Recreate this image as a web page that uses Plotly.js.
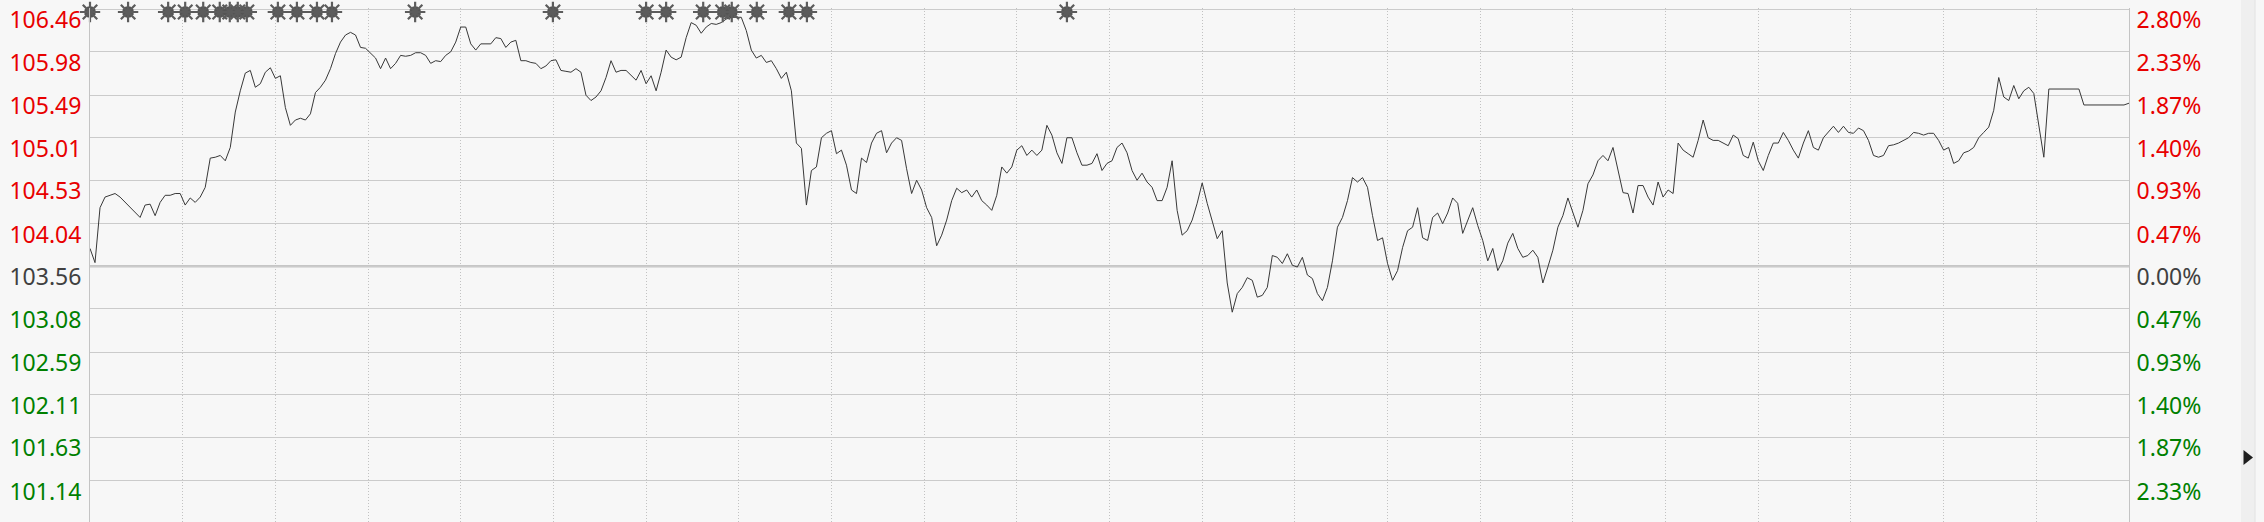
<!DOCTYPE html>
<html><head><meta charset="utf-8">
<script src="https://cdn.plot.ly/plotly-3.0.1.min.js"></script>
<style>html,body{margin:0;padding:0;background:#f7f7f7;overflow:hidden}#chart{width:2264px;height:522px}</style>
</head><body><div id="chart"></div>
<script>
const prevClose = 103.56;
const priceTicks = [106.46, 105.98, 105.49, 105.01, 104.53, 104.04, 103.56, 103.08, 102.59, 102.11, 101.63, 101.14];
const priceTickLabels = ['106.46','105.98','105.49','105.01','104.53','104.04','103.56','103.08','102.59','102.11','101.63','101.14'];
const pctTickLabels = ['2.80%','2.33%','1.87%','1.40%','0.93%','0.47%','0.00%','0.47%','0.93%','1.40%','1.87%','2.33%'];

const prices = [
103.76,103.60,104.22,104.34,104.36,104.38,104.34,104.28,104.22,104.16,
104.11,104.25,104.26,104.13,104.28,104.36,104.36,104.38,104.38,104.25,
104.33,104.28,104.34,104.45,104.78,104.79,104.81,104.75,104.90,105.30,
105.54,105.74,105.77,105.58,105.62,105.75,105.80,105.68,105.71,105.35,
105.15,105.21,105.23,105.21,105.28,105.52,105.58,105.66,105.79,105.96,
106.09,106.17,106.20,106.17,106.03,106.02,105.96,105.91,105.79,105.91,
105.79,105.85,105.94,105.93,105.94,105.97,105.97,105.94,105.85,105.88,
105.87,105.94,105.98,106.09,106.26,106.26,106.07,106.00,106.07,106.07,
106.07,106.14,106.13,106.03,106.09,106.11,105.88,105.88,105.86,105.85,
105.79,105.82,105.88,105.89,105.77,105.76,105.75,105.79,105.75,105.49,
105.43,105.47,105.54,105.69,105.88,105.75,105.77,105.77,105.71,105.66,
105.77,105.62,105.71,105.54,105.75,106.00,105.92,105.89,105.92,106.14,
106.31,106.28,106.19,106.26,106.30,106.29,106.31,106.35,106.37,106.37,
106.37,106.22,106.00,105.91,105.94,105.86,105.88,105.79,105.68,105.75,
105.54,104.95,104.89,104.25,104.64,104.68,105.01,105.06,105.09,104.83,
104.87,104.70,104.42,104.38,104.78,104.73,104.95,105.06,105.09,104.84,
104.95,105.01,104.98,104.66,104.38,104.53,104.42,104.22,104.11,103.79,
103.91,104.08,104.30,104.44,104.39,104.42,104.34,104.42,104.30,104.25,
104.19,104.36,104.68,104.61,104.68,104.87,104.92,104.81,104.87,104.81,
104.87,105.15,105.04,104.84,104.72,105.01,105.01,104.84,104.70,104.70,
104.72,104.83,104.64,104.72,104.75,104.90,104.95,104.84,104.64,104.53,
104.61,104.51,104.45,104.30,104.30,104.45,104.75,104.19,103.91,103.96,
104.08,104.27,104.50,104.27,104.08,103.87,103.96,103.37,103.04,103.25,
103.32,103.43,103.40,103.21,103.23,103.32,103.68,103.66,103.59,103.70,
103.57,103.55,103.66,103.46,103.42,103.25,103.17,103.32,103.62,104.00,
104.11,104.30,104.56,104.51,104.56,104.45,104.13,103.85,103.88,103.59,
103.40,103.51,103.77,103.96,104.00,104.22,103.88,103.85,104.11,104.16,
104.04,104.16,104.33,104.27,103.93,104.08,104.22,104.02,103.85,103.62,
103.76,103.51,103.62,103.82,103.93,103.76,103.66,103.68,103.74,103.66,
103.37,103.55,103.74,104.00,104.13,104.33,104.17,104.00,104.19,104.49,
104.59,104.75,104.81,104.75,104.90,104.64,104.39,104.38,104.16,104.47,
104.47,104.34,104.25,104.51,104.34,104.42,104.38,104.95,104.87,104.83,
104.79,104.98,105.21,105.01,104.98,104.98,104.95,104.92,105.04,105.00,
104.81,104.78,104.96,104.75,104.64,104.81,104.95,104.95,105.07,104.98,
104.87,104.78,104.95,105.09,104.90,104.87,105.01,105.07,105.14,105.07,
105.14,105.07,105.06,105.12,105.09,104.98,104.81,104.79,104.81,104.92,
104.93,104.95,104.98,105.01,105.07,105.06,105.04,105.06,105.06,104.98,
104.87,104.90,104.72,104.75,104.84,104.86,104.90,105.01,105.07,105.13,
105.32,105.69,105.47,105.43,105.60,105.45,105.54,105.58,105.51,105.13,
104.79,105.56,105.56,105.56,105.56,105.56,105.56,105.56,105.38,105.38,
105.38,105.38,105.38,105.38,105.38,105.38,105.38,105.40
];
// positions (sample index) of event markers along the top
const eventIdx = [0,7.6,15.6,19.0,22.6,25.9,27.9,29.5,31.3,37.5,41.3,45.3,48.3,64.9,92.4,111.0,115.0,122.4,126.3,128.1,133.1,139.5,143.1,195.0];
const eventLevel = 106.43;
const gridIntervals = 22;

const RED = 'rgb(232,0,0)', GREEN = 'rgb(0,128,0)', NEUTRAL = 'rgb(64,64,64)';
const colorFor = v => (Math.abs(v - prevClose) < 0.005 ? NEUTRAL : (v > prevClose ? RED : GREEN));
const styled = (labels) => labels.map((t, k) => `<span style="color:${colorFor(priceTicks[k])}">${t}</span>`);

const xs = prices.map((_, i) => i);
const last = prices.length - 1;
const yRange = [100.671, 106.475];
const evY = eventIdx.map(() => eventLevel);

const traces = [
  {x: xs, y: prices, type: 'scatter', mode: 'lines', line: {color: '#383838', width: 1}, hoverinfo: 'skip'},
  {x: eventIdx, y: evY, type: 'scatter', mode: 'markers', yaxis: 'y2', cliponaxis: false,
   marker: {symbol: 'octagon', size: 12, color: '#545454', line: {width: 0}}, hoverinfo: 'skip'},
  {x: eventIdx, y: evY, type: 'scatter', mode: 'markers', yaxis: 'y2', cliponaxis: false,
   marker: {symbol: 'asterisk-open', size: 17, color: '#5c5c5c', line: {color: '#5c5c5c', width: 2.2}}, hoverinfo: 'skip'}
];

const font = {family: 'Noto Sans, Open Sans, sans-serif', size: 23};
const pxToPaperX = px => (px - 90) / (2264 - 90 - 135);
const pxToPaperY = py => (522 - py) / (522 - 8);

const layout = {
  width: 2264, height: 522,
  margin: {l: 90, r: 135, t: 8, b: 0, pad: 0},
  paper_bgcolor: '#f7f7f7', plot_bgcolor: '#f7f7f7',
  showlegend: false,
  xaxis: {range: [0, last], tick0: 0, dtick: last / gridIntervals, showgrid: true, gridcolor: '#c2c2c2',
          griddash: '1px,2px', gridwidth: 1, showticklabels: false, ticks: '', zeroline: false, showline: false, fixedrange: true},
  yaxis: {range: yRange, tickmode: 'array', tickvals: priceTicks, ticktext: styled(priceTickLabels),
          showgrid: true, gridcolor: '#cbcbcb', gridwidth: 1, zeroline: false, showline: true, linecolor: '#c4c4c4', linewidth: 1,
          ticks: '', tickfont: font, ticklabelshift: 11, ticklabelstandoff: 3, ticklabeloverflow: 'allow', fixedrange: true},
  yaxis2: {range: yRange, overlaying: 'y', side: 'right', tickmode: 'array', tickvals: priceTicks, ticktext: styled(pctTickLabels),
          showgrid: false, zeroline: false, showline: true, linecolor: '#c4c4c4', linewidth: 1,
          ticks: '', tickfont: font, ticklabelshift: 11, ticklabelstandoff: 2, ticklabeloverflow: 'allow', fixedrange: true},
  shapes: [
    {type: 'line', xref: 'paper', yref: 'y', x0: 0, x1: 1, y0: prevClose, y1: prevClose, line: {color: '#c6c6c6', width: 2.5}, layer: 'below'},
    {type: 'rect', xref: 'paper', yref: 'paper', x0: pxToPaperX(2241), x1: pxToPaperX(2255), y0: pxToPaperY(522), y1: pxToPaperY(0), fillcolor: '#efefef', line: {width: 0}, layer: 'below'},
    {type: 'line', xref: 'paper', yref: 'paper', x0: pxToPaperX(2255), x1: pxToPaperX(2255), y0: pxToPaperY(522), y1: pxToPaperY(0), line: {color: '#e2e2e2', width: 1}},
    {type: 'path', xref: 'paper', yref: 'paper',
     path: `M ${pxToPaperX(2243.5)} ${pxToPaperY(450)} L ${pxToPaperX(2243.5)} ${pxToPaperY(465)} L ${pxToPaperX(2253)} ${pxToPaperY(457.5)} Z`,
     fillcolor: '#1e1e1e', line: {width: 0}}
  ]
};

Plotly.newPlot('chart', traces, layout, {displayModeBar: false, staticPlot: true});
</script>
</body></html>
